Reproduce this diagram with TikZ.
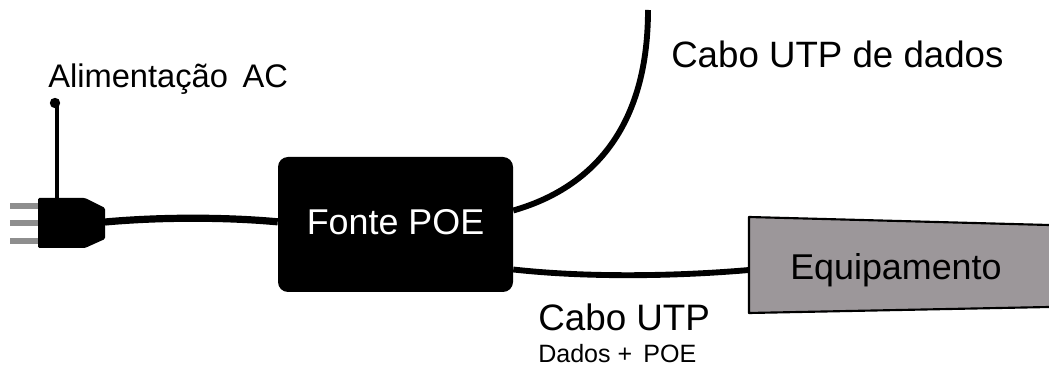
\documentclass[tikz,border=0pt]{standalone}
\usepackage{fontspec}
\setmainfont{Liberation Sans}
\newcommand{\pxfont}[1]{\fontsize{#1pt}{#1pt}\selectfont}
\tikzset{
  x=0.75pt,y=-0.75pt,
  cable/.style={draw=black,line width=4.4pt,line cap=butt},
  maincable/.style={draw=black,line width=5.4pt,line cap=butt},
  prong/.style={draw=prongcol,line width=5pt},
  label/.style={inner sep=0pt,anchor=base west,text=black},
  powerbox/.style={fill=black,rounded corners=7.5pt,minimum width=176.25pt,minimum height=101.25pt,inner sep=0pt,text=white}
}
\definecolor{prongcol}{HTML}{8E8E8E}
\definecolor{equipcol}{HTML}{9C979A}
\begin{document}
\begin{tikzpicture}
\useasboundingbox (0,0) rectangle (1049,366);
% equipment body
\coordinate (eqa) at (749,217);
\coordinate (eqb) at (1049,225);
\coordinate (eqc) at (1049,307);
\coordinate (eqd) at (749,313);
\coordinate (eqin) at (749,270);
\fill[equipcol] (eqa) -- (eqb) -- (eqc) -- (eqd) -- cycle;
\draw[black,line width=1.6pt,line join=round] (eqb) -- (eqa) -- (eqd) -- (eqc);
% plug prongs
\coordinate (pa1) at (10,206); \coordinate (pb1) at (38,206);
\coordinate (pa2) at (10,223); \coordinate (pb2) at (38,223);
\coordinate (pa3) at (10,241); \coordinate (pb3) at (38,241);
\draw[prong] (pa1) -- (pb1);
\draw[prong] (pa2) -- (pb2);
\draw[prong] (pa3) -- (pb3);
% plug body
\coordinate (plugtop) at (57,198);
\coordinate (plugout) at (105,222);
\fill[black,rounded corners=1pt] (38,198) -- (85,198) -- (105,208) -- (105,239) -- (85,248) -- (38,248) -- cycle;
% AC lead
\coordinate (acdot) at (55,103);
\draw[black,line width=2.3pt] (plugtop) -- (57,104);
\fill[black] (acdot) circle[radius=5.2];
% power box
\node[powerbox] (fonte) at (395.5,224.5) {\raisebox{3.8pt}{\pxfont{26.9}Fonte POE}};
% cables
\coordinate (cabletop) at (648,10);
\draw[maincable] (plugout) .. controls (160,217) and (225,217) .. ([yshift=2pt]fonte.west);
\draw[cable] ([yshift=10.5pt]fonte.east) .. controls (585,190) and (648,135) .. (cabletop);
\draw[cable] ([yshift=-33.75pt]fonte.east) .. controls (590,278) and (680,276) .. (eqin);
% labels
\node[label] (lac) at (48,88) {\pxfont{24.5}Alimentação\, AC};
\node[label] (ldados) at (671,68) {\pxfont{27.5}Cabo UTP de dados};
\node[label] (leq) at (790,280) {\pxfont{26.9}Equipamento};
\node[label] (lutp) at (538,331) {\pxfont{27.6}Cabo UTP};
\node[label] (lpoe) at (538,363) {\pxfont{18.8}Dados +\, POE};
\end{tikzpicture}
\end{document}
